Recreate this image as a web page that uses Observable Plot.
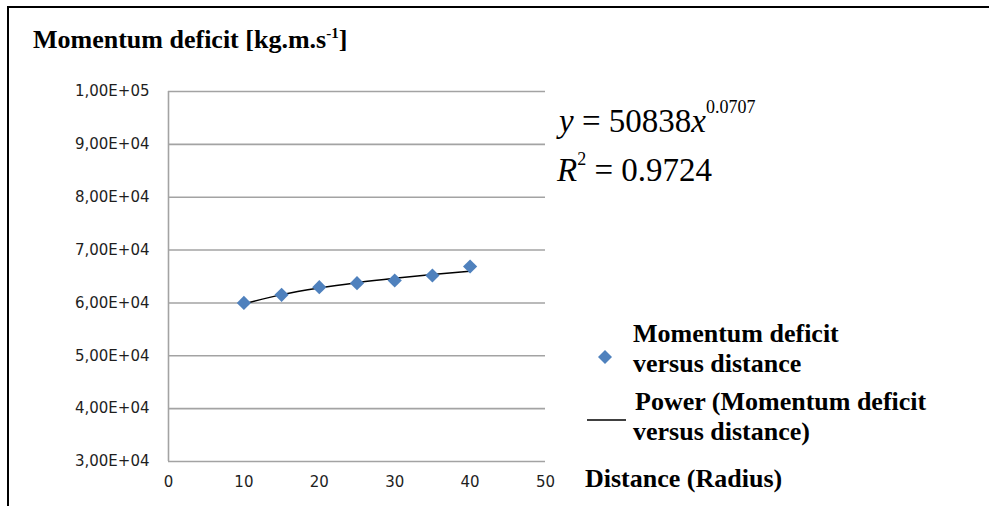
<!DOCTYPE html>
<html>
<head>
<meta charset="utf-8">
<script src="https://cdn.jsdelivr.net/npm/d3@7"></script>
<script src="https://cdn.jsdelivr.net/npm/@observablehq/plot@0.6"></script>
<style>
  html, body { margin: 0; padding: 0; background: #fff; }
  #wrap { position: relative; width: 989px; height: 506px; overflow: hidden; background: #fff; }
  #chart { position: absolute; left: 0; top: 0; }
  .frame { position: absolute; left: 7px; top: 6px; right: -10px; bottom: -10px;
           border-left: 2.5px solid #000; border-top: 2.5px solid #000; pointer-events: none; }
  .t { position: absolute; font-family: "Liberation Serif", "Times New Roman", serif; font-weight: bold;
       font-size: 26px; color: #000; white-space: nowrap; line-height: 1; }
  .eq { position: absolute; font-family: "Liberation Serif", "Times New Roman", serif; font-size: 33px;
        color: #000; white-space: nowrap; line-height: 1; }
  .eq i { font-style: italic; font-family: "Liberation Serif", "Times New Roman", serif; }
  .sup { font-size: 18px; position: relative; top: -19px; }
</style>
</head>
<body>
<div id="wrap">
  <div id="chart"></div>
  <div class="frame"></div>
  <div class="t" style="left:33px; top:27px;">Momentum deficit [kg.m.s<span style="font-size:15px; position:relative; top:-10px;">-1</span>]</div>
  <div class="eq" style="left:559px; top:105px;"><i>y</i> = 50838<i>x</i><span class="sup">0.0707</span></div>
  <div class="eq" style="left:557px; top:154px;"><i>R</i><span class="sup" style="top:-16px;">2</span> = 0.9724</div>
  <svg style="position:absolute; left:597px; top:349px;" width="16" height="16"><polygon points="8,1 15,8 8,15 1,8" fill="#4f81bd"/></svg>
  <div class="t" style="left:633px; top:321px;">Momentum deficit</div>
  <div class="t" style="left:633px; top:351px;">versus distance</div>
  <svg style="position:absolute; left:586px; top:414px;" width="42" height="10"><line x1="1" x2="40" y1="6" y2="6" stroke="#000" stroke-width="1.5"/></svg>
  <div class="t" style="left:635px; top:389px;">Power (Momentum deficit</div>
  <div class="t" style="left:633px; top:419px;">versus distance)</div>
  <div class="t" style="left:585px; top:466px;">Distance (Radius)</div>
</div>
<script>
// Data
const distance = [10, 15, 20, 25, 30, 35, 40];
const momentumDeficit = [60000, 61540, 62980, 63740, 64240, 65190, 66890];
// Power trendline values (y = 50838 x^0.0707) at the same distances
const trendDeficit = [59830, 61570, 62830, 63830, 64660, 65370, 65990];

const xTicks = [0, 10, 20, 30, 40, 50];
const yTicks = [30000, 40000, 50000, 60000, 70000, 80000, 90000, 100000];
const yTickLabels = ["3,00E+04", "4,00E+04", "5,00E+04", "6,00E+04", "7,00E+04", "8,00E+04", "9,00E+04", "1,00E+05"];

const points = distance.map((d, i) => ({x: d, y: momentumDeficit[i]}));
const trend = distance.map((d, i) => ({x: d, y: trendDeficit[i]}));

const chart = Plot.plot({
  width: 989,
  height: 506,
  marginLeft: 168,
  marginRight: 444,
  marginTop: 91,
  marginBottom: 45,
  style: {fontFamily: "DejaVu Sans", fontSize: "15px", color: "#1e1e1e", background: "transparent"},
  x: {domain: [0, 50], label: null},
  y: {domain: [30000, 100000], label: null},
  marks: [
    Plot.ruleY(yTicks, {stroke: "#a3a3a3", strokeWidth: 1.6}),
    Plot.ruleX([0], {stroke: "#a3a3a3", strokeWidth: 1.6}),
    Plot.axisX(xTicks, {tickSize: 0, tickPadding: 15, label: null}),
    Plot.axisY(yTicks, {tickSize: 0, tickPadding: 19, label: null,
      tickFormat: d => yTickLabels[yTicks.indexOf(d)]}),
    Plot.line(trend, {x: "x", y: "y", stroke: "#000", strokeWidth: 1.5, curve: "monotone-x"}),
    Plot.dot(points, {x: "x", y: "y", symbol: "diamond2", r: 6.4, fill: "#4f81bd", stroke: "none"})
  ]
});
document.getElementById("chart").appendChild(chart);
</script>
</body>
</html>
